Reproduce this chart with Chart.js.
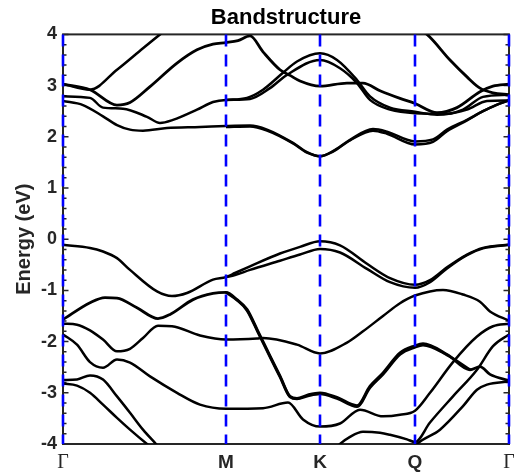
<!DOCTYPE html>
<html><head><meta charset="utf-8">
<script src="https://cdn.jsdelivr.net/npm/chart.js@4.4.1/dist/chart.umd.min.js"></script>
<style>html,body{margin:0;padding:0;background:#fff;}</style>
</head><body>
<canvas id="c" width="514" height="475"></canvas>
<script>
// High-symmetry points (path distance) and labels
const kPoints = [0, 1.63, 2.57, 3.52, 4.46];
const kLabels = ['Γ', 'M', 'K', 'Q', 'Γ'];
const yTickValues = [-4, -3, -2, -1, 0, 1, 2, 3, 4];

// Conduction bands [k, E(eV)]
const c1a = [[0,2.70],[0.20,2.62],[0.40,2.40],[0.54,2.23],[0.67,2.14],[0.80,2.12],[1.04,2.17],[1.37,2.19],[1.63,2.21],[1.87,2.22],[2.04,2.14],[2.30,1.88],[2.44,1.70],[2.57,1.62],[2.70,1.72],[2.87,1.94],[3.10,2.15],[3.24,2.10],[3.52,1.91],[3.70,1.95],[3.84,2.14],[4.04,2.33],[4.20,2.50],[4.33,2.62],[4.46,2.71]];
const c1b = [[1.63,2.19],[1.87,2.20],[2.04,2.12],[2.30,1.87],[2.44,1.69],[2.57,1.62],[2.70,1.71],[2.87,1.93],[3.10,2.12],[3.24,2.06],[3.52,1.85],[3.70,1.90],[3.84,2.11],[4.04,2.32],[4.20,2.50],[4.33,2.62],[4.46,2.71]];
const c2 = [[0,2.79],[0.27,2.76],[0.40,2.57],[0.60,2.55],[0.84,2.39],[0.97,2.27],[1.10,2.33],[1.34,2.53],[1.50,2.68],[1.63,2.72],[1.87,2.74],[2.07,2.95],[2.24,3.21],[2.57,3.50],[2.77,3.34],[2.94,3.05],[3.07,2.72],[3.27,2.53],[3.52,2.46],[3.84,2.45],[4.04,2.53],[4.24,2.70],[4.46,2.71]];
const c3 = [[1.63,2.72],[1.84,2.76],[2.00,2.92],[2.20,3.25],[2.34,3.47],[2.57,3.63],[2.74,3.50],[2.94,3.11],[3.07,2.79],[3.27,2.57],[3.52,2.49],[3.74,2.43],[4.00,2.53],[4.20,2.78],[4.46,2.82]];
const c4 = [[0,3.03],[0.27,2.92],[0.54,2.62],[0.67,2.67],[0.87,2.98],[1.14,3.44],[1.34,3.70],[1.50,3.81],[1.63,3.84],[1.75,3.88],[1.87,3.97],[2.00,3.66],[2.17,3.31],[2.27,3.20],[2.37,3.09],[2.57,2.99],[2.84,3.05],[3.00,3.05],[3.17,2.90],[3.37,2.75],[3.52,2.65],[3.74,2.47],[3.94,2.57],[4.17,2.88],[4.30,2.99],[4.46,3.03]];
const c5 = [[0,3.03],[0.27,2.92],[0.54,3.31],[0.80,3.73],[0.97,4.00],[1.10,4.20]];
const c6 = [[3.57,4.08],[3.64,4.00],[3.87,3.50],[4.04,3.17],[4.17,2.95],[4.30,2.86],[4.46,2.82]];

// Valence bands [k, E(eV)]
const v1a = [[0,-0.11],[0.27,-0.17],[0.40,-0.24],[0.54,-0.37],[0.67,-0.60],[0.94,-1.02],[1.09,-1.11],[1.24,-1.05],[1.50,-0.79],[1.63,-0.74],[1.72,-0.66],[1.87,-0.53],[2.17,-0.28],[2.37,-0.15],[2.57,-0.04],[2.77,-0.12],[3.04,-0.48],[3.27,-0.76],[3.52,-0.89],[3.67,-0.80],[3.84,-0.55],[4.04,-0.30],[4.20,-0.17],[4.46,-0.11]];
const v1b = [[1.63,-0.74],[1.72,-0.70],[1.87,-0.60],[2.17,-0.42],[2.37,-0.30],[2.57,-0.19],[2.77,-0.26],[3.04,-0.58],[3.27,-0.84],[3.52,-0.95],[3.67,-0.84],[3.84,-0.57],[4.04,-0.31],[4.20,-0.18],[4.46,-0.11]];
const v2a = [[0,-1.57],[0.27,-1.24],[0.42,-1.14],[0.54,-1.15],[0.74,-1.34],[0.95,-1.55],[1.07,-1.47],[1.30,-1.18],[1.50,-1.06],[1.63,-1.04],[1.74,-1.18],[1.84,-1.37],[1.95,-1.80],[2.07,-2.28],[2.17,-2.67],[2.27,-3.07],[2.34,-3.11],[2.45,-3.04],[2.57,-3.00],[2.74,-3.09],[2.94,-3.25],[3.07,-2.87],[3.20,-2.61],[3.37,-2.22],[3.52,-2.08],[3.60,-2.04],[3.84,-2.25],[4.07,-2.55],[4.17,-2.49],[4.27,-2.64],[4.46,-2.76]];
const v2b = [[1.63,-1.04],[1.74,-1.19],[1.84,-1.39],[1.95,-1.82],[2.07,-2.30],[2.17,-2.69],[2.27,-3.08],[2.34,-3.12],[2.45,-3.06],[2.57,-3.02],[2.74,-3.11],[2.94,-3.27],[3.07,-2.90],[3.20,-2.64],[3.37,-2.25],[3.52,-2.11],[3.60,-2.07],[3.84,-2.26],[4.07,-2.55]];
const v3 = [[0,-1.65],[0.14,-1.67],[0.27,-1.78],[0.40,-1.96],[0.54,-2.19],[0.67,-2.14],[0.80,-1.93],[0.95,-1.69],[1.09,-1.70],[1.37,-1.88],[1.63,-1.96],[1.94,-1.94],[2.00,-1.93],[2.34,-2.06],[2.57,-2.23],[2.84,-2.02],[3.00,-1.80],[3.20,-1.50],[3.37,-1.25],[3.52,-1.10],[3.80,-0.99],[4.00,-1.08],[4.17,-1.22],[4.27,-1.41],[4.46,-1.59]];
const v4 = [[0,-1.86],[0.14,-2.06],[0.27,-2.40],[0.40,-2.51],[0.54,-2.35],[0.67,-2.41],[0.87,-2.68],[1.14,-3.00],[1.37,-3.23],[1.63,-3.31],[2.00,-3.30],[2.25,-3.19],[2.40,-3.52],[2.57,-3.66],[2.77,-3.60],[2.97,-3.33],[3.20,-3.46],[3.37,-3.43],[3.52,-3.35],[3.67,-3.00],[3.90,-2.40],[4.14,-1.90],[4.30,-1.70],[4.46,-1.65]];
const v5 = [[0,-2.75],[0.14,-2.74],[0.27,-2.66],[0.40,-2.74],[0.54,-3.07],[0.67,-3.39],[0.80,-3.72],[0.93,-4.00],[1.00,-4.15]];
const v6 = [[0,-2.82],[0.14,-2.86],[0.27,-3.00],[0.40,-3.23],[0.54,-3.49],[0.67,-3.72],[0.84,-4.00],[0.92,-4.12]];
const v7 = [[2.72,-4.10],[2.77,-4.00],[2.87,-3.86],[3.00,-3.76],[3.17,-3.78],[3.27,-3.82],[3.44,-3.91],[3.52,-3.96],[3.67,-3.58],[3.90,-3.07],[4.14,-2.55],[4.30,-2.09],[4.46,-1.86]];
const v8 = [[3.50,-4.10],[3.54,-4.00],[3.77,-3.72],[4.00,-3.26],[4.14,-2.94],[4.24,-2.84],[4.46,-2.78]];

const bandList = [c1a,c1b,c2,c3,c4,c5,c6,v1a,v1b,v2a,v2b,v3,v4,v5,v6,v7,v8];
const thickBands = [c4, c6, v2a, v2b];

const datasets = [];
// high-symmetry lines (drawn on top: first in list)
kPoints.forEach(k => {
  datasets.push({
    data: [{x:k, y:4}, {x:k, y:-4}],
    borderColor: '#0000ff', borderWidth: 2.6, borderDash: [12, 8],
    pointRadius: 0, showLine: true, tension: 0, clip: 4
  });
});
bandList.forEach(b => {
  datasets.push({
    data: b.map(p => ({x:p[0], y:p[1]})),
    borderColor: '#000000', borderWidth: thickBands.includes(b) ? 2.8 : 2.5,
    pointRadius: 0, showLine: true, cubicInterpolationMode: 'monotone'
  });
});

const framePlugin = {
  id: 'frame',
  beforeDatasetsDraw(chart) {
    const {ctx, chartArea: a, scales} = chart;
    ctx.save();
    ctx.strokeStyle = '#262626';
    ctx.lineWidth = 2;
    ctx.strokeRect(a.left, a.top, a.right - a.left, a.bottom - a.top);
    ctx.lineWidth = 1.5;
    for (let i = 0; i <= 40; i++) {
      const v = -4 + i * 0.2;
      const y = scales.y.getPixelForValue(v);
      const len = (i % 5 === 0) ? 5.5 : 3.5;
      ctx.beginPath();
      ctx.moveTo(a.left, y); ctx.lineTo(a.left + len, y);
      ctx.moveTo(a.right, y); ctx.lineTo(a.right - len, y);
      ctx.stroke();
    }
    ctx.restore();
  }
};

new Chart(document.getElementById('c'), {
  type: 'scatter',
  data: { datasets },
  options: {
    responsive: false, animation: false, devicePixelRatio: 1,
    layout: { padding: { left: 0, right: 5, top: 0, bottom: 0 } },
    plugins: {
      legend: { display: false }, tooltip: { enabled: false },
      title: { display: true, text: 'Bandstructure', fullSize: false, color: '#000',
        font: { family: 'Liberation Sans', size: 22, weight: 'bold' }, padding: { top: 5, bottom: 3 } }
    },
    scales: {
      x: {
        type: 'linear', min: 0, max: 4.46,
        grid: { display: false, drawTicks: false }, border: { display: false },
        afterBuildTicks: s => { s.ticks = kPoints.map(v => ({ value: v })); },
        afterFit: s => { s.height = 31; s.paddingLeft = 0; s.paddingRight = 0; },
        ticks: {
          autoSkip: false, maxRotation: 0, padding: 7, color: '#262626',
          callback: (v, i) => kLabels[i],
          font: ctx => (ctx.index === 0 || ctx.index === kPoints.length - 1)
            ? { family: 'Liberation Serif', size: 20 }
            : { family: 'Liberation Sans', size: 19, weight: 'bold' }
        }
      },
      y: {
        min: -4, max: 4,
        grid: { display: false, drawTicks: false }, border: { display: false },
        afterBuildTicks: s => { s.ticks = yTickValues.map(v => ({ value: v })); },
        afterFit: s => { s.width = 63; s.paddingTop = 0; s.paddingBottom = 0; },
        ticks: { padding: 6, color: '#262626', font: { family: 'Liberation Sans', size: 18, weight: 'bold' } },
        title: { display: true, text: 'Energy (eV)', color: '#262626',
          font: { family: 'Liberation Sans', size: 20, weight: 'bold' }, padding: { top: 12, bottom: 0 } }
      }
    }
  },
  plugins: [framePlugin]
});
</script>
</body></html>
